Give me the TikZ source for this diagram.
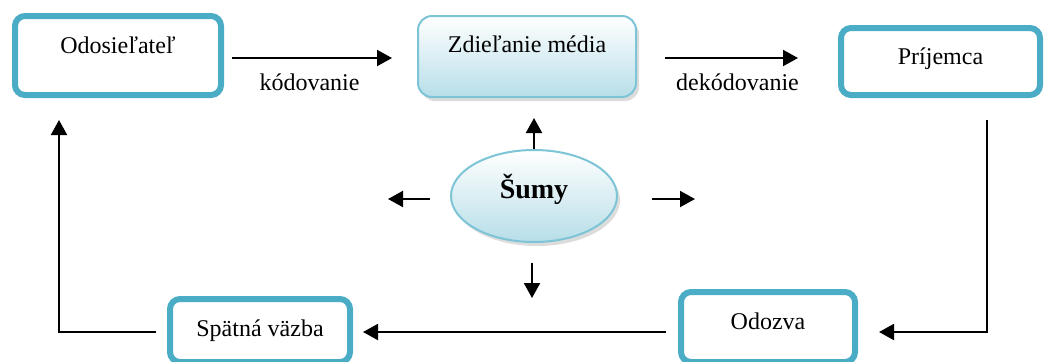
\documentclass[tikz,border=0pt]{standalone}
\usepackage{fontspec}
\setmainfont{Liberation Serif}
\usetikzlibrary{arrows.meta,shapes.geometric,shadows}

\definecolor{rim}{RGB}{75,172,198}
\definecolor{paleRim}{RGB}{125,196,214}
\definecolor{paleFill}{RGB}{183,222,232}

\begin{document}
\begin{tikzpicture} [
	x=0.5pt,y=-0.5pt,
	frame/.style={
		rectangle,draw=rim,fill=white,line width=3pt,
		rounded corners=5pt,
		inner ysep=0pt,anchor=base,
		font=\fontsize{12}{14}\selectfont},
	media/.style={
		rectangle,draw=paleRim,line width=1pt,
		top color=white,bottom color=paleFill,
		rounded corners=7pt,
		inner ysep=0pt,anchor=base,
		drop shadow={shadow xshift=1.5pt,shadow yshift=-2pt,fill=gray!55},
		font=\fontsize{12}{14}\selectfont},
	noise/.style={
		ellipse,draw=paleRim,line width=1pt,
		top color=white,bottom color=paleFill,
		minimum width=83pt,minimum height=46pt,
		text height=10pt,text depth=8pt,
		drop shadow={shadow xshift=1.5pt,shadow yshift=-2pt,fill=gray!55},
		font=\fontsize{14}{16}\selectfont\bfseries},
	words/.style={
		inner sep=0pt,anchor=base,
		font=\fontsize{12}{14}\selectfont},
	tip/.style={
		-{Triangle[length=7.5pt,width=8pt]},line width=1pt}]
\useasboundingbox (0,0) rectangle (1047,361);
\node [frame,minimum width=103pt,text height=18.5pt,text depth=21pt]	(sender) at (118,53)		{Odosieľateľ};
\node [media,minimum width=109pt,text height=18pt,text depth=22.5pt]	(shared media) at (527,52)	{Zdieľanie média};
\node [frame,minimum width=99.5pt,text height=18pt,text depth=15.5pt]	(receiver) at (940.5,64)	{Príjemca};
\node [frame,minimum width=87pt,text height=18.5pt,text depth=16.5pt]	(response) at (768,329)	{Odozva};
\node [frame,minimum width=90pt,text height=18.5pt,text depth=13pt]	(feedback) at (260,336)	{Spätná väzba};
\node [noise]	(noise) at (534,196)	{Šumy};
\coordinate (noise left) at (388,199);
\coordinate (noise right) at (695,199);
\coordinate (noise down) at (532,298);
\draw[tip,shorten <=4pt,shorten >=12.5pt] ([yshift=-1.25pt]sender.east) -- ([yshift=-1.25pt]sender.east -| shared media.west)
	node [words,midway,xshift=-5.5pt,yshift=-16pt] {kódovanie};
\draw[tip,shorten <=14pt,shorten >=20pt] ([yshift=-0.75pt]shared media.east) -- ([yshift=-0.75pt]shared media.east -| receiver.west)
	node [words,midway,yshift=-16pt] {dekódovanie};
\draw[tip,shorten <=11pt,shorten >=10.5pt] ([xshift=23.25pt]receiver.south) |- ([yshift=-2.5pt]response.east);
\draw[tip,shorten <=6pt,shorten >=5pt] ([yshift=-2.5pt]response.west) -- ([yshift=-2.5pt]response.west -| feedback.east);
\draw[tip,shorten <=5.5pt,shorten >=11pt] ([yshift=-0.75pt]feedback.west) -| ([xshift=-29.5pt]sender.south);
\draw[tip,shorten >=10pt] (noise.north) -- (noise.north |- shared media.south);
\draw[tip,shorten <=10pt] (noise.west |- noise left) -- (noise left);
\draw[tip,shorten <=17pt] (noise.east |- noise right) -- (noise right);
\draw[tip,shorten <=10pt] (noise.south -| noise down) -- (noise down);
\end{tikzpicture}
\end{document}
